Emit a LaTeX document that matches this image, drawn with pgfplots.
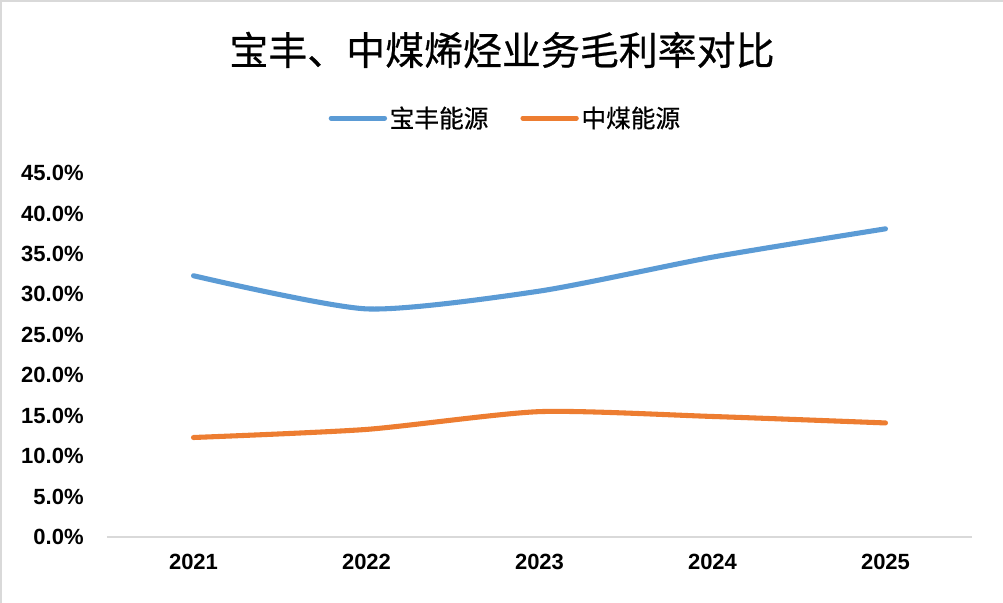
\documentclass[border=0pt]{standalone}
\usepackage{pgfplots}
\pgfplotsset{compat=1.18}
\usepackage{fontspec}
\setmainfont{Liberation Sans}
\newfontfamily\cjk{Noto Sans CJK SC}
\newfontfamily\cjkb[FakeBold=0.6]{Noto Sans CJK SC}
\definecolor{cblue}{HTML}{5B9BD5}
\definecolor{corange}{HTML}{ED7D31}
\definecolor{cgrid}{HTML}{D9D9D9}
\begin{document}
\begin{tikzpicture}
\useasboundingbox (0,0) rectangle (752.25pt,452.25pt);
\fill[white] (0,0) rectangle (752.25pt,452.25pt);
\draw[cgrid,line width=1.5pt] (0.75pt,0) -- (0.75pt,451.5pt) -- (752.25pt,451.5pt);
\begin{axis}[
  at={(80.25pt,49.5pt)}, anchor=south west,
  scale only axis, width=648.75pt, height=273pt,
  xmin=-0.5, xmax=4.5, ymin=0, ymax=45,
  xtick={0,1,2,3,4}, xticklabels={2021,2022,2023,2024,2025},
  ytick={0,5,...,45},
  yticklabel={\pgfmathprintnumber[fixed,fixed zerofill,precision=1]{\tick}\%},
  /pgf/number format/assume math mode=true,
  tick label style={font=\fontsize{16.5}{18}\selectfont\bfseries, text=black},
  xticklabel style={yshift=-9pt},
  yticklabel style={xshift=-14pt},
  axis line style={draw=none},
  major tick length=0pt,
  clip=false,
  legend columns=2,
  legend style={at={(0.461,1.151)}, anchor=center, draw=none, fill=none,
    font=\cjkb\fontsize{18.5}{20}\selectfont,
    /tikz/every even column/.append style={column sep=22pt}},
  legend image code/.code={\draw[#1, line cap=round] (0pt,0pt) -- (40pt,0pt);},
]
\draw[cgrid, line width=1.5pt] (axis cs:-0.5,0) -- (axis cs:4.5,0);
\addplot[cblue, line width=3.8pt, smooth, tension=0.4, line cap=round] coordinates {
  (0,32.3) (1,28.2) (2,30.4) (3,34.6) (4,38.1)
};
\addlegendentry{宝丰能源}
\addplot[corange, line width=3.8pt, smooth, tension=0.4, line cap=round] coordinates {
  (0,12.3) (1,13.3) (2,15.5) (3,14.9) (4,14.1)
};
\addlegendentry{中煤能源}
\end{axis}
\node[font=\cjkb\fontsize{29.2}{32}\selectfont] at (376.5pt,414.75pt) {宝丰、中煤烯烃业务毛利率对比};
\end{tikzpicture}
\end{document}
